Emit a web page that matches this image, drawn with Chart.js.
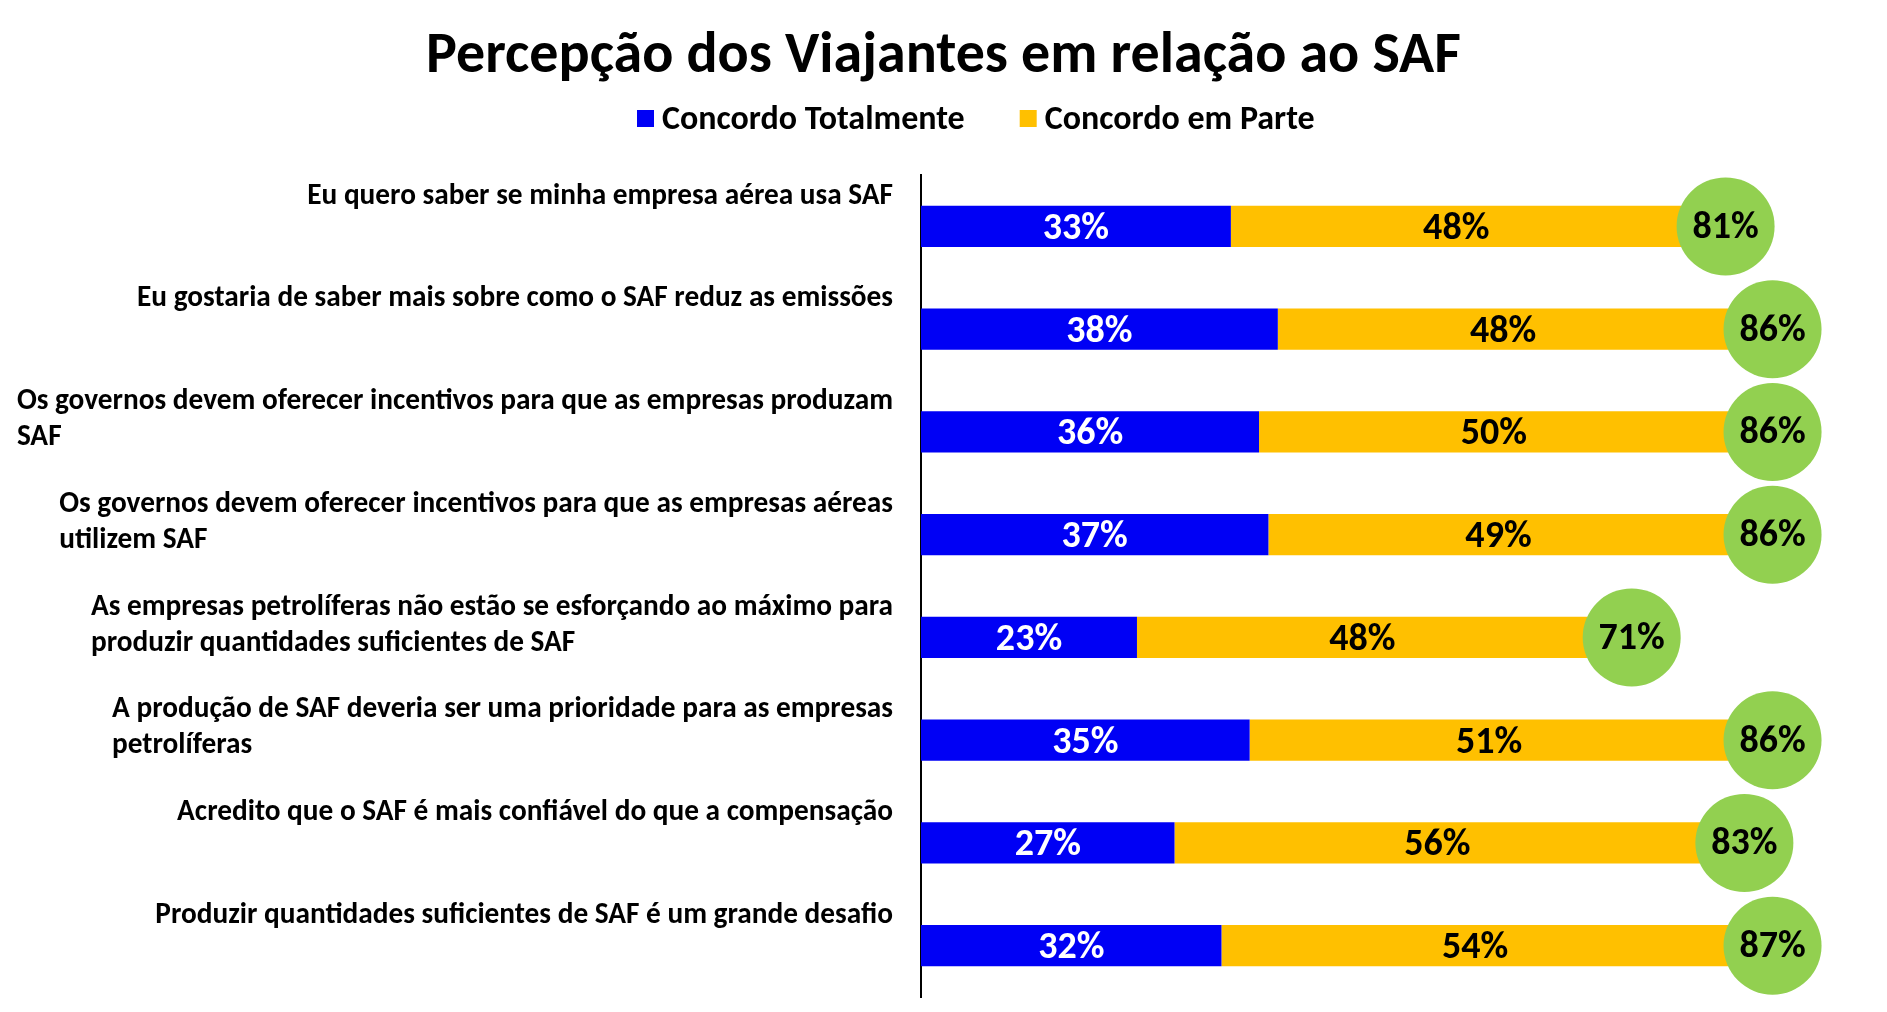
<!DOCTYPE html>
<html>
<head>
<meta charset="utf-8">
<script src="https://cdn.jsdelivr.net/npm/chart.js@4.4.1/dist/chart.umd.min.js"></script>
<style>
  html, body { margin: 0; padding: 0; background: #ffffff; }
  #chart { display: block; }
</style>
</head>
<body>
<canvas id="chart" width="1887" height="1012"></canvas>
<script>
const titulo = "Percepção dos Viajantes em relação ao SAF"
const series = ["Concordo Totalmente", "Concordo em Parte"]
const categorias = [
    ["Eu quero saber se minha empresa aérea usa SAF"],
    ["Eu gostaria de saber mais sobre como o SAF reduz as emissões"],
    ["Os governos devem oferecer incentivos para que as empresas produzam", "SAF"],
    ["Os governos devem oferecer incentivos para que as empresas aéreas", "utilizem SAF"],
    ["As empresas petrolíferas não estão se esforçando ao máximo para", "produzir quantidades suficientes de SAF"],
    ["A produção de SAF deveria ser uma prioridade para as empresas", "petrolíferas"],
    ["Acredito que o SAF é mais confiável do que a compensação"],
    ["Produzir quantidades suficientes de SAF é um grande desafio"]
]
const totalmente = [33, 38, 36, 37, 23, 35, 27, 32]
const emParte = [48, 48, 50, 49, 48, 51, 56, 54]
const totais = [81, 86, 86, 86, 71, 86, 83, 87]

const FONTE = "Carlito, Calibri, Lato, sans-serif"
const AZUL = "#0000f5"
const AMARELO = "#ffc000"
const VERDE = "#92d050"

function fonte(size) {
    return "bold " + size + "px " + FONTE
}

// title, legend, category labels, value labels and total circles
const extras = {
    id: "extras",
    afterDatasetsDraw(chart) {
        const ctx = chart.ctx
        const x = chart.scales.x
        const y = chart.scales.y
        ctx.save()

        // circles with the totals, placed at the end of the stacked bar
        totais.forEach((t, i) => {
            const cx = x.getPixelForValue(totalmente[i] + emParte[i]) + 44
            const cy = y.getPixelForValue(i)
            ctx.beginPath()
            ctx.arc(cx, cy, 49, 0, Math.PI * 2)
            ctx.fillStyle = VERDE
            ctx.fill()
            ctx.fillStyle = "#000"
            ctx.font = fonte(38)
            ctx.textAlign = "center"
            ctx.textBaseline = "middle"
            ctx.fillText(t + "%", cx, cy + 2)
        })

        // values inside bars
        chart.data.datasets.forEach((ds, d) => {
            const meta = chart.getDatasetMeta(d)
            meta.data.forEach((bar, i) => {
                ctx.fillStyle = d == 0 ? "#fff" : "#000"
                ctx.font = fonte(38)
                ctx.textAlign = "center"
                ctx.textBaseline = "middle"
                ctx.fillText(ds.data[i] + "%", (bar.x + bar.base) / 2, bar.y + 3)
            })
        })

        // category labels above the bars
        ctx.font = fonte(29.3)
        ctx.fillStyle = "#000"
        ctx.textAlign = "left"
        ctx.textBaseline = "middle"
        categorias.forEach((linhas, i) => {
            const largura = Math.max(...linhas.map(l => ctx.measureText(l).width))
            const x0 = chart.chartArea.left - 28 - largura
            const y0 = y.getPixelForValue(i) - 30
            linhas.forEach((l, k) => ctx.fillText(l, x0, y0 + k * 36))
        })

        // title
        ctx.font = fonte(58)
        ctx.textAlign = "center"
        ctx.fillText(titulo, chart.width / 2, 57)

        // legend
        ctx.font = fonte(34)
        ctx.textAlign = "left"
        let lx = 637
        chart.data.datasets.forEach((ds) => {
            ctx.fillStyle = ds.backgroundColor
            ctx.fillRect(lx, 110, 17, 17)
            ctx.fillStyle = "#000"
            ctx.fillText(ds.label, lx + 25, 120)
            lx += 25 + ctx.measureText(ds.label).width + 55
        })

        ctx.restore()
    }
}

new Chart(document.getElementById("chart"), {
    type: "bar",
    data: {
        labels: categorias,
        datasets: [{
            label: series[0],
            data: totalmente,
            backgroundColor: AZUL,
            borderWidth: 0
        },
        {
            label: series[1],
            data: emParte,
            backgroundColor: AMARELO,
            borderWidth: 0
        }]
    },
    options: {
        indexAxis: "y",
        responsive: false,
        animation: false,
        devicePixelRatio: 1,
        barPercentage: 0.4,
        categoryPercentage: 1,
        layout: {
            padding: { left: 921, right: 27, top: 175, bottom: 15 }
        },
        plugins: {
            legend: { display: false },
            title: { display: false },
            tooltip: { enabled: false }
        },
        scales: {
            x: {
                stacked: true,
                display: false,
                min: 0,
                max: 100
            },
            y: {
                stacked: true,
                display: true,
                ticks: { display: false },
                grid: { display: false, drawTicks: false },
                border: { display: true, color: "#000", width: 2 },
                afterFit(s) { s.width = 0 }
            }
        }
    },
    plugins: [extras]
});
</script>
</body>
</html>
